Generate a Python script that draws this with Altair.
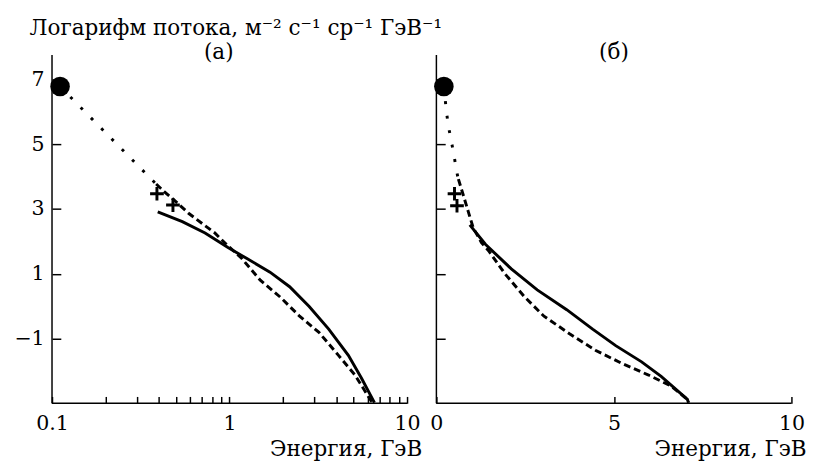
import altair as alt
import pandas as pd

# ---------------- data ----------------
# panel (а): logarithmic energy axis
a_point_x = [0.111]
a_point_y = [6.78]
a_dotted_x = [0.111, 0.386]
a_dotted_y = [6.78, 3.77]
a_cross_x = [0.39, 0.48]
a_cross_y = [3.47, 3.12]
a_dashed_x = [0.386, 0.43, 0.486, 0.59, 0.826, 0.98, 1.16, 1.49, 1.92, 2.48, 3.19, 4.11, 5.08, 6.28, 6.55]
a_dashed_y = [3.77, 3.53, 3.28, 2.86, 2.26, 1.86, 1.50, 0.80, 0.29, -0.31, -0.81, -1.52, -2.12, -2.93, -3.0]
a_solid_x = [0.394, 0.542, 0.728, 0.98, 1.26, 1.69, 2.18, 2.81, 3.62, 4.67, 5.53, 6.55]
a_solid_y = [2.91, 2.61, 2.26, 1.81, 1.46, 1.05, 0.60, -0.01, -0.71, -1.52, -2.22, -2.98]

# panel (б): linear energy axis
b_point_x = [0.21]
b_point_y = [6.78]
b_dotted_x = [0.21, 0.275, 0.33, 0.41, 0.49, 0.56, 0.62]
b_dotted_y = [6.78, 6.09, 5.60, 5.15, 4.70, 4.22, 3.90]
b_cross_x = [0.51, 0.58]
b_cross_y = [3.47, 3.10]
b_dashed_x = [0.62, 0.76, 0.90, 1.04, 1.27, 1.47, 1.93, 2.48, 3.03, 3.76, 4.49, 5.23, 5.96, 6.61, 7.07, 7.1]
b_dashed_y = [3.92, 3.42, 2.91, 2.41, 1.96, 1.71, 1.00, 0.29, -0.31, -0.86, -1.37, -1.77, -2.12, -2.47, -2.88, -2.98]
b_solid_x = [0.94, 1.38, 2.11, 2.84, 3.67, 4.40, 5.05, 5.78, 6.33, 7.07, 7.1]
b_solid_y = [2.51, 1.91, 1.15, 0.50, -0.11, -0.71, -1.22, -1.72, -2.17, -2.88, -2.98]

# axes
a_x_ticks = [0.1, 0.2, 0.3, 0.4, 0.5, 0.6, 0.7, 0.8, 0.9, 1, 2, 3, 4, 5, 6, 7, 8, 9, 10]
a_x_labels = [0.1, 1, 10]
b_x_ticks = [0, 5, 10]
y_ticks = [-1, 1, 3, 5, 7]
y_domain = [-3, 7.75]

main_title = "Логарифм потока, м⁻² с⁻¹ ср⁻¹ ГэВ⁻¹"
x_title = "Энергия, ГэВ"
panel_titles = ["(а)", "(б)"]

# ---------------- styling ----------------
FONT = "DejaVu Serif"
FS = 22
LFS = 21
W, H = 363, 356
LW = 3


def frame(xs, ys):
    return pd.DataFrame({"x": xs, "y": ys, "i": list(range(len(xs)))})


def panel(title, title_dx, xscale, xaxis, show_ylabels, pts, dotted, crosses, dashed, solid):
    yaxis = alt.Axis(values=y_ticks, format="d", labels=show_ylabels, title=None,
                     domain=False, offset=-9, tickSize=9, tickWidth=1.5, tickColor="black",
                     labelPadding=8, grid=False)
    X = alt.X("x:Q", scale=xscale, axis=xaxis)
    Y = alt.Y("y:Q", scale=alt.Scale(domain=y_domain, nice=False, zero=False), axis=yaxis)

    solid_l = alt.Chart(solid).mark_line(color="black", strokeWidth=LW).encode(x=X, y=Y, order="i:Q")
    dashed_l = alt.Chart(dashed).mark_line(color="black", strokeWidth=LW, strokeDash=[7, 4]).encode(
        x=X, y=Y, order="i:Q")
    dotted_l = alt.Chart(dotted).mark_line(color="black", strokeWidth=LW, strokeDash=[3, 12]).encode(
        x=X, y=Y, order="i:Q")
    cross_m = alt.Chart(crosses).mark_point(shape="M-1,0H1M0,-1V1", size=196, strokeWidth=3,
                                            filled=False, color="black", opacity=1).encode(x=X, y=Y)
    dot_m = alt.Chart(pts).mark_circle(size=400, color="black", opacity=1).encode(x=X, y=Y)
    left_line = alt.Chart(pts).mark_rule(color="black", strokeWidth=1.5).encode(
        x=alt.value(0), y=alt.value(0), y2=alt.value(H))
    bottom_line = alt.Chart(pts).mark_rule(color="black", strokeWidth=1.5).encode(
        x=alt.value(0), x2=alt.value(W), y=alt.value(H))

    return alt.layer(solid_l, dashed_l, dotted_l, cross_m, dot_m, left_line, bottom_line).properties(
        width=W, height=H,
        title=alt.TitleParams(title, font=FONT, fontSize=FS, fontWeight="normal", frame="group",
                              dx=title_dx, offset=-27, baseline="alphabetic"))


def xaxis(values, label_expr):
    kw = dict(values=values, title=x_title, domain=False, offset=-7, tickSize=7, tickWidth=1.5,
              tickColor="black", labelPadding=10, labelFlush=False, grid=False,
              titleX=W + 15, titleY=60, titleAlign="right", titleBaseline="alphabetic")
    if label_expr:
        kw["labelExpr"] = label_expr
    return alt.Axis(**kw)


label_expr_a = "indexof(" + str(a_x_labels) + ", datum.value) >= 0 ? format(datum.value, '~g') : ''"

pa = panel(panel_titles[0], -11,
           alt.Scale(type="log", domain=[0.1, 10], nice=False),
           xaxis(a_x_ticks, label_expr_a), True,
           frame(a_point_x, a_point_y), frame(a_dotted_x, a_dotted_y), frame(a_cross_x, a_cross_y),
           frame(a_dashed_x, a_dashed_y), frame(a_solid_x, a_solid_y))

pb = panel(panel_titles[1], 0,
           alt.Scale(type="linear", domain=[0, 10], nice=False, zero=False),
           xaxis(b_x_ticks, None), False,
           frame(b_point_x, b_point_y), frame(b_dotted_x, b_dotted_y), frame(b_cross_x, b_cross_y),
           frame(b_dashed_x, b_dashed_y), frame(b_solid_x, b_solid_y))

chart = alt.hconcat(
    pa, pb, spacing=30, bounds="flush",
    title=alt.TitleParams(main_title, anchor="start", font=FONT, fontSize=FS, fontWeight="normal",
                          color="black", dx=16, offset=-15, baseline="alphabetic"),
).properties(
    padding={"left": 6, "top": 4, "right": 5, "bottom": 5}
).configure_view(stroke=None).configure_axis(
    labelFont=FONT, labelFontSize=LFS, labelColor="black",
    titleFont=FONT, titleFontSize=FS, titleFontWeight="normal", titleColor="black",
).configure_title(color="black")

chart.save("out.html", embed_options={"renderer": "svg", "actions": False})
